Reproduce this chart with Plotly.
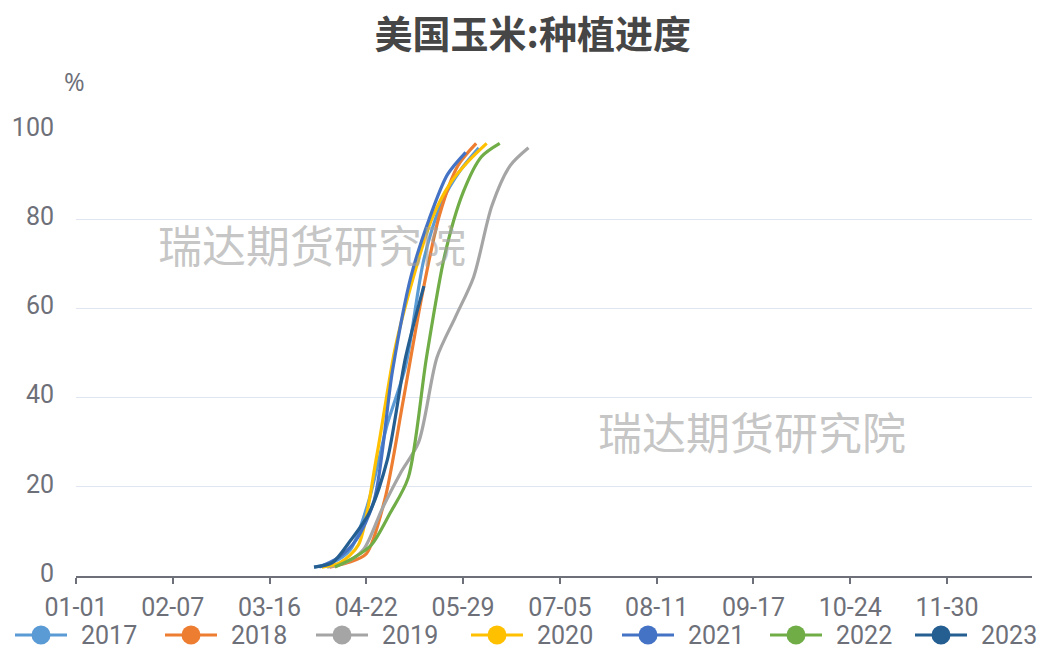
import pandas as pd
import plotly.graph_objects as go

# Category axis: every calendar day of a non-leap year, as MM-DD
all_days = [d.strftime("%m-%d") for d in pd.date_range("2023-01-01", "2023-12-31", freq="D")]
tick_days = all_days[::37]

# Weekly planting progress (% planted), by report date
dates_2017 = ["04-02", "04-09", "04-16", "04-23", "04-30", "05-07", "05-14", "05-21", "05-28", "06-04"]
vals_2017 = [2, 3, 6, 17, 34, 47, 71, 84, 91, 96]

dates_2018 = ["04-08", "04-15", "04-22", "04-29", "05-06", "05-13", "05-20", "05-27", "06-03"]
vals_2018 = [2, 3, 5, 17, 39, 62, 81, 92, 97]

dates_2019 = ["04-07", "04-14", "04-21", "04-28", "05-05", "05-12", "05-19", "05-26",
              "06-02", "06-09", "06-16", "06-23"]
vals_2019 = [2, 3, 6, 15, 23, 30, 49, 58, 67, 83, 92, 96]

dates_2020 = ["04-05", "04-12", "04-19", "04-26", "05-03", "05-10", "05-17", "05-24", "05-31", "06-07"]
vals_2020 = [2, 3, 7, 27, 51, 67, 80, 88, 93, 97]

dates_2021 = ["04-04", "04-11", "04-18", "04-25", "05-02", "05-09", "05-16", "05-23", "05-30"]
vals_2021 = [2, 4, 8, 17, 46, 67, 80, 90, 95]

dates_2022 = ["04-10", "04-17", "04-24", "05-01", "05-08", "05-15", "05-22", "05-29", "06-05", "06-12"]
vals_2022 = [2, 4, 7, 14, 22, 49, 72, 86, 94, 97]

dates_2023 = ["04-02", "04-09", "04-16", "04-23", "04-30", "05-07", "05-14"]
vals_2023 = [2, 3, 8, 14, 26, 49, 65]

series = [
    ("2017", dates_2017, vals_2017, "#5B9BD5"),
    ("2018", dates_2018, vals_2018, "#ED7D31"),
    ("2019", dates_2019, vals_2019, "#A5A5A5"),
    ("2020", dates_2020, vals_2020, "#FFC000"),
    ("2021", dates_2021, vals_2021, "#4472C4"),
    ("2022", dates_2022, vals_2022, "#70AD47"),
    ("2023", dates_2023, vals_2023, "#255E91"),
]

# Figure geometry (pixels)
W, H = 1055, 650
M_L, M_R, M_T, M_B = 76, 23, 130, 74
PLOT_W = W - M_L - M_R
PLOT_H = H - M_T - M_B


def px_to_paper_x(px):
    return (px - M_L) / PLOT_W


def px_to_paper_y(py):
    return (H - M_B - py) / PLOT_H


# Legend row along the bottom edge: symbol centres in pixels
legend_centres = [41, 191, 342, 497, 648, 796, 941]
legend_y = 635

label_font = dict(family="Roboto, Noto Sans CJK SC, sans-serif", size=25, color="#6e7079")
legend_font = dict(family="Roboto, Noto Sans CJK SC, sans-serif", size=25, color="#6e7079")
wm_font = dict(family="Noto Sans CJK SC", size=44, color="rgba(160,160,160,0.6)")

fig = go.Figure()
shapes = []
annotations = [
    dict(text="%", xref="paper", yref="paper", x=-0.002, y=1.109, xanchor="center",
         yanchor="middle", showarrow=False,
         font=dict(family="Open Sans", size=25, color="#6e7079")),
    dict(text="瑞达期货研究院", xref="paper", yref="paper", x=0.247, y=0.745,
         xanchor="center", yanchor="middle", showarrow=False, font=wm_font),
    dict(text="瑞达期货研究院", xref="paper", yref="paper", x=0.707, y=0.326,
         xanchor="center", yanchor="middle", showarrow=False, font=wm_font),
]

for (name, xs, ys, color), cx in zip(series, legend_centres):
    fig.add_trace(go.Scatter(
        x=xs, y=ys, name=name, mode="lines", showlegend=False,
        line=dict(color=color, width=3.2, shape="spline", smoothing=0.8),
        hoverinfo="x+y+name",
    ))
    # legend symbol: short line with a round marker in the middle
    ly = px_to_paper_y(legend_y)
    shapes.append(dict(type="line", xref="paper", yref="paper",
                       x0=px_to_paper_x(cx - 26), x1=px_to_paper_x(cx + 26), y0=ly, y1=ly,
                       line=dict(color=color, width=3)))
    shapes.append(dict(type="circle", xref="paper", yref="paper",
                       xsizemode="pixel", ysizemode="pixel",
                       xanchor=px_to_paper_x(cx), yanchor=ly,
                       x0=-9.5, x1=9.5, y0=-9.5, y1=9.5,
                       fillcolor=color, line=dict(color=color, width=0)))
    annotations.append(dict(text=name, xref="paper", yref="paper",
                            x=px_to_paper_x(cx + 39), y=ly, xanchor="left", yanchor="middle",
                            showarrow=False, borderpad=0, font=legend_font))

fig.update_layout(
    width=W, height=H,
    margin=dict(l=M_L, r=M_R, t=M_T, b=M_B, autoexpand=False),
    paper_bgcolor="white", plot_bgcolor="white",
    showlegend=False,
    title=dict(
        text="<b>美国玉米:种植进度</b>", x=0.505, xanchor="center", y=0.947, yanchor="middle",
        font=dict(family="Noto Sans CJK SC", size=38, color="#464646"),
    ),
    xaxis=dict(
        type="category", categoryorder="array", categoryarray=all_days,
        range=[0, 365.5], tickmode="array", tickvals=tick_days, ticktext=tick_days,
        showgrid=False, showline=True, linecolor="#6e7079", linewidth=2,
        ticks="outside", ticklen=6, tickcolor="#6e7079", tickwidth=2,
        tickfont=label_font, zeroline=False, ticklabelstandoff=2,
    ),
    yaxis=dict(
        range=[0, 100], tickvals=[0, 20, 40, 60, 80, 100],
        showgrid=True, gridcolor="#e0e6f1", gridwidth=1,
        showline=False, zeroline=False, ticks="", ticklabelstandoff=21,
        ticklabelshift=-3, tickfont=label_font,
    ),
    shapes=shapes,
    annotations=annotations,
)

fig.write_html("out.html")
